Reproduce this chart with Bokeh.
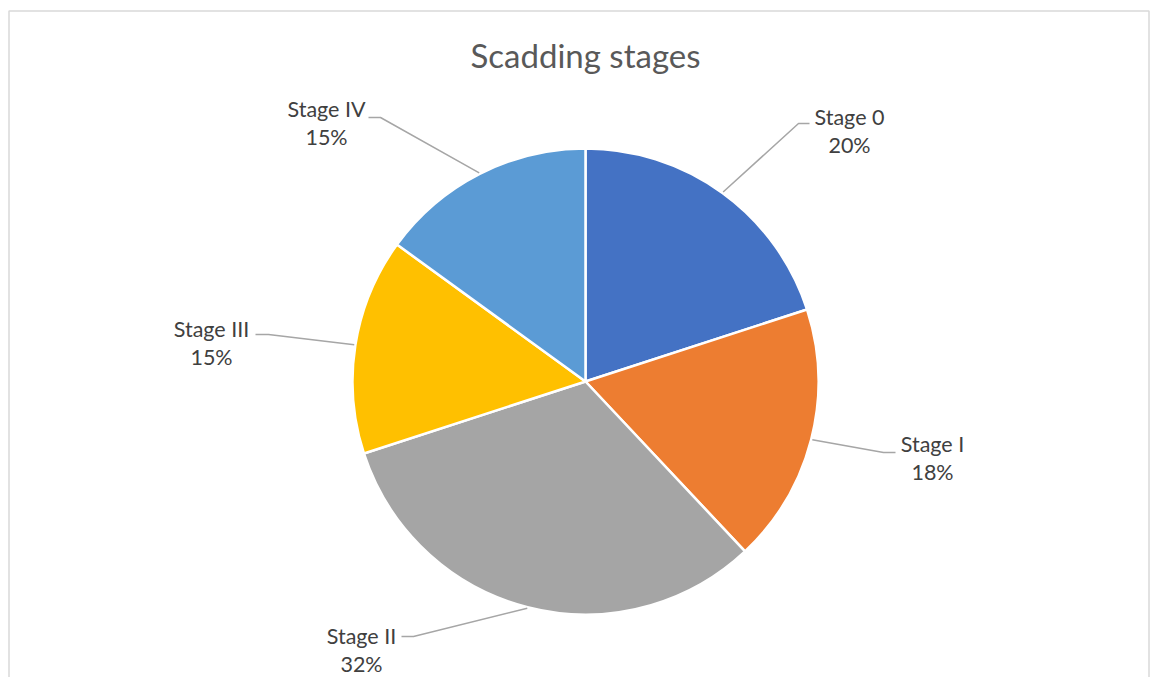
import math
from bokeh.plotting import figure
from bokeh.models import Range1d, ColumnDataSource
from bokeh.core.properties import value
from bokeh.embed import file_html
from bokeh.resources import INLINE

# ---- data ----
title = "Scadding stages"
categories = ["Stage 0", "Stage I", "Stage II", "Stage III", "Stage IV"]
percents = [20, 18, 32, 15, 15]
colors = ["#4472C4", "#ED7D31", "#A5A5A5", "#FFC000", "#5B9BD5"]

# ---- layout (pixel space, y measured from top) ----
W, H = 1150, 677
CX, CY, R = 585, 381, 233
# label centre (x, y of first line) and leader elbow/end for each slice
label_pos = [(849, 116), (932, 443), (361, 635), (211, 328), (326, 108)]
elbow = [((798, 123), (809, 123)), ((883, 452), (895, 452)),
         ((413, 636), (401, 636)), ((268, 334), (255, 334)),
         ((380, 117), (368, 117))]

def fy(y):
    return H - y

p = figure(width=W, height=H, output_backend="svg", toolbar_location=None,
           x_range=Range1d(0, W), y_range=Range1d(0, H), min_border=0)
p.axis.visible = False
p.grid.visible = False
p.outline_line_color = None
p.background_fill_color = "white"

# chart border
p.quad(left=[8.5], right=[1148.5], top=[fy(10.5)], bottom=[fy(700)],
       fill_color=None, line_color="#D9D9D9", line_width=1.5)

# wedges
total = sum(percents)
starts, ends, mids = [], [], []
acc = 0.0
for v in percents:
    a0 = math.pi / 2 - 2 * math.pi * acc / total
    acc += v
    a1 = math.pi / 2 - 2 * math.pi * acc / total
    starts.append(a0)
    ends.append(a1)
    mids.append((a0 + a1) / 2)

src = ColumnDataSource(dict(start=starts, end=ends, color=colors, cat=categories))
p.wedge(x=CX, y=fy(CY), radius=R, start_angle="start", end_angle="end",
        direction="clock", fill_color="color", line_color="white", line_width=2.5,
        source=src)

# leader lines
for i, m in enumerate(mids):
    sx = CX + R * 1.005 * math.cos(m)
    sy = fy(CY) + R * 1.005 * math.sin(m)
    (ex, ey), (hx, hy) = elbow[i]
    p.line([sx, ex, hx], [sy, fy(ey), fy(hy)], line_color="#A6A6A6", line_width=1.5)

# labels
font = value("Lato")
for i, (lx, ly) in enumerate(label_pos):
    p.text(x=[lx], y=[fy(ly)], text=[categories[i]], text_font=font,
           text_font_size="21.5px", text_color="#404040", text_align="center",
           text_baseline="middle")
    p.text(x=[lx], y=[fy(ly + 28)], text=[f"{percents[i]}%"], text_font=font,
           text_font_size="21.5px", text_color="#404040", text_align="center",
           text_baseline="middle")

p.text(x=[585], y=[fy(54)], text=[title], text_font=font, text_font_size="33px",
       text_color="#595959", text_align="center", text_baseline="middle")

open("out.html", "w").write(file_html(p, INLINE))
